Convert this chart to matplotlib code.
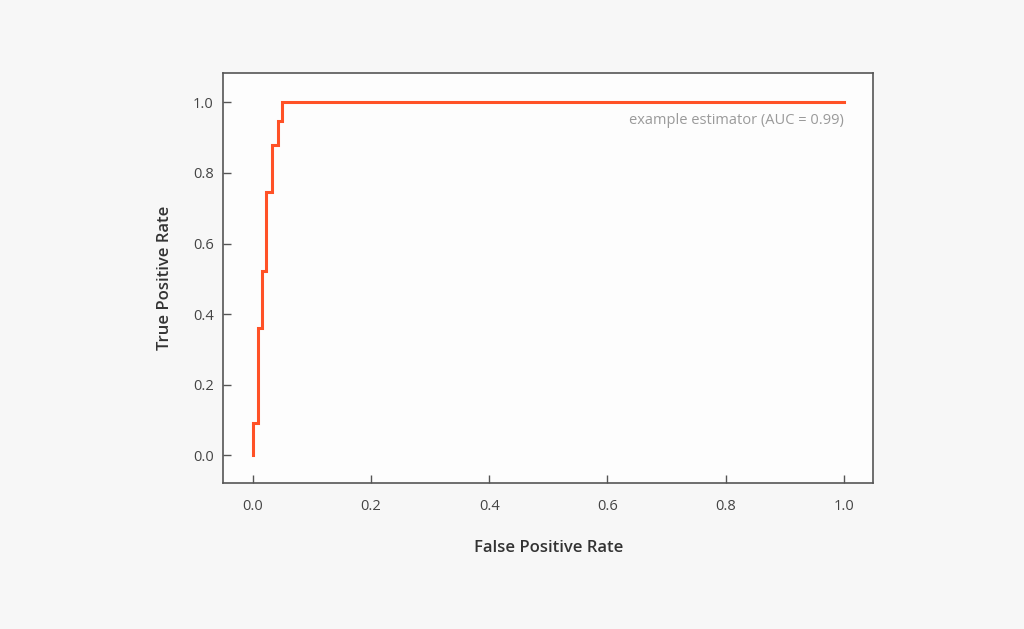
import matplotlib
matplotlib.use("Agg")
import matplotlib.pyplot as plt

# ROC curve step points
fpr = [0.0, 0.0, 0.0085, 0.0085, 0.0152, 0.0152, 0.0226, 0.0226, 0.032, 0.032, 0.042, 0.042, 0.050, 0.050, 1.0]
tpr = [0.0, 0.0915, 0.0915, 0.360, 0.360, 0.523, 0.523, 0.747, 0.747, 0.879, 0.879, 0.947, 0.947, 1.0, 1.0]
label = "example estimator (AUC = 0.99)"
xticks = [0.0, 0.2, 0.4, 0.6, 0.8, 1.0]
yticks = [0.0, 0.2, 0.4, 0.6, 0.8, 1.0]

plt.rcParams['font.family'] = ['Open Sans', 'DejaVu Sans']

fig = plt.figure(figsize=(10.24, 6.29), dpi=100, facecolor='#f7f7f7')
ax = fig.add_axes([223.3 / 1024, 1 - 483.3 / 629, 650 / 1024, 410 / 629])
ax.set_facecolor('#fdfdfd')

ax.plot(fpr, tpr, color='#ff5126', lw=2.2, solid_joinstyle='miter')
ax.text(1.0, 0.947, label, ha='right', va='center', fontsize=10.5, color='#9a9a9a')

ax.set_xlim(-0.05, 1.05)
ax.set_ylim(-0.079, 1.082)
ax.set_xticks(xticks)
ax.set_yticks(yticks)
ax.set_xticklabels([f"{v:.1f}" for v in xticks])
ax.set_yticklabels([f"{v:.1f}" for v in yticks])
ax.tick_params(direction='in', length=6, width=1, color='#555555', labelcolor='#444444',
               labelsize=10.5)
ax.tick_params(axis='x', pad=11.5)
ax.tick_params(axis='y', pad=7)
for s in ax.spines.values():
    s.set_color('#555555')
    s.set_linewidth(1.2)

ax.set_xlabel('False Positive Rate', fontsize=12, fontweight='semibold', color='#333333', labelpad=18.5)
ax.set_ylabel('True Positive Rate', fontsize=12, fontweight='semibold', color='#333333', labelpad=14)

fig.savefig('out.png', dpi=100, facecolor=fig.get_facecolor())
